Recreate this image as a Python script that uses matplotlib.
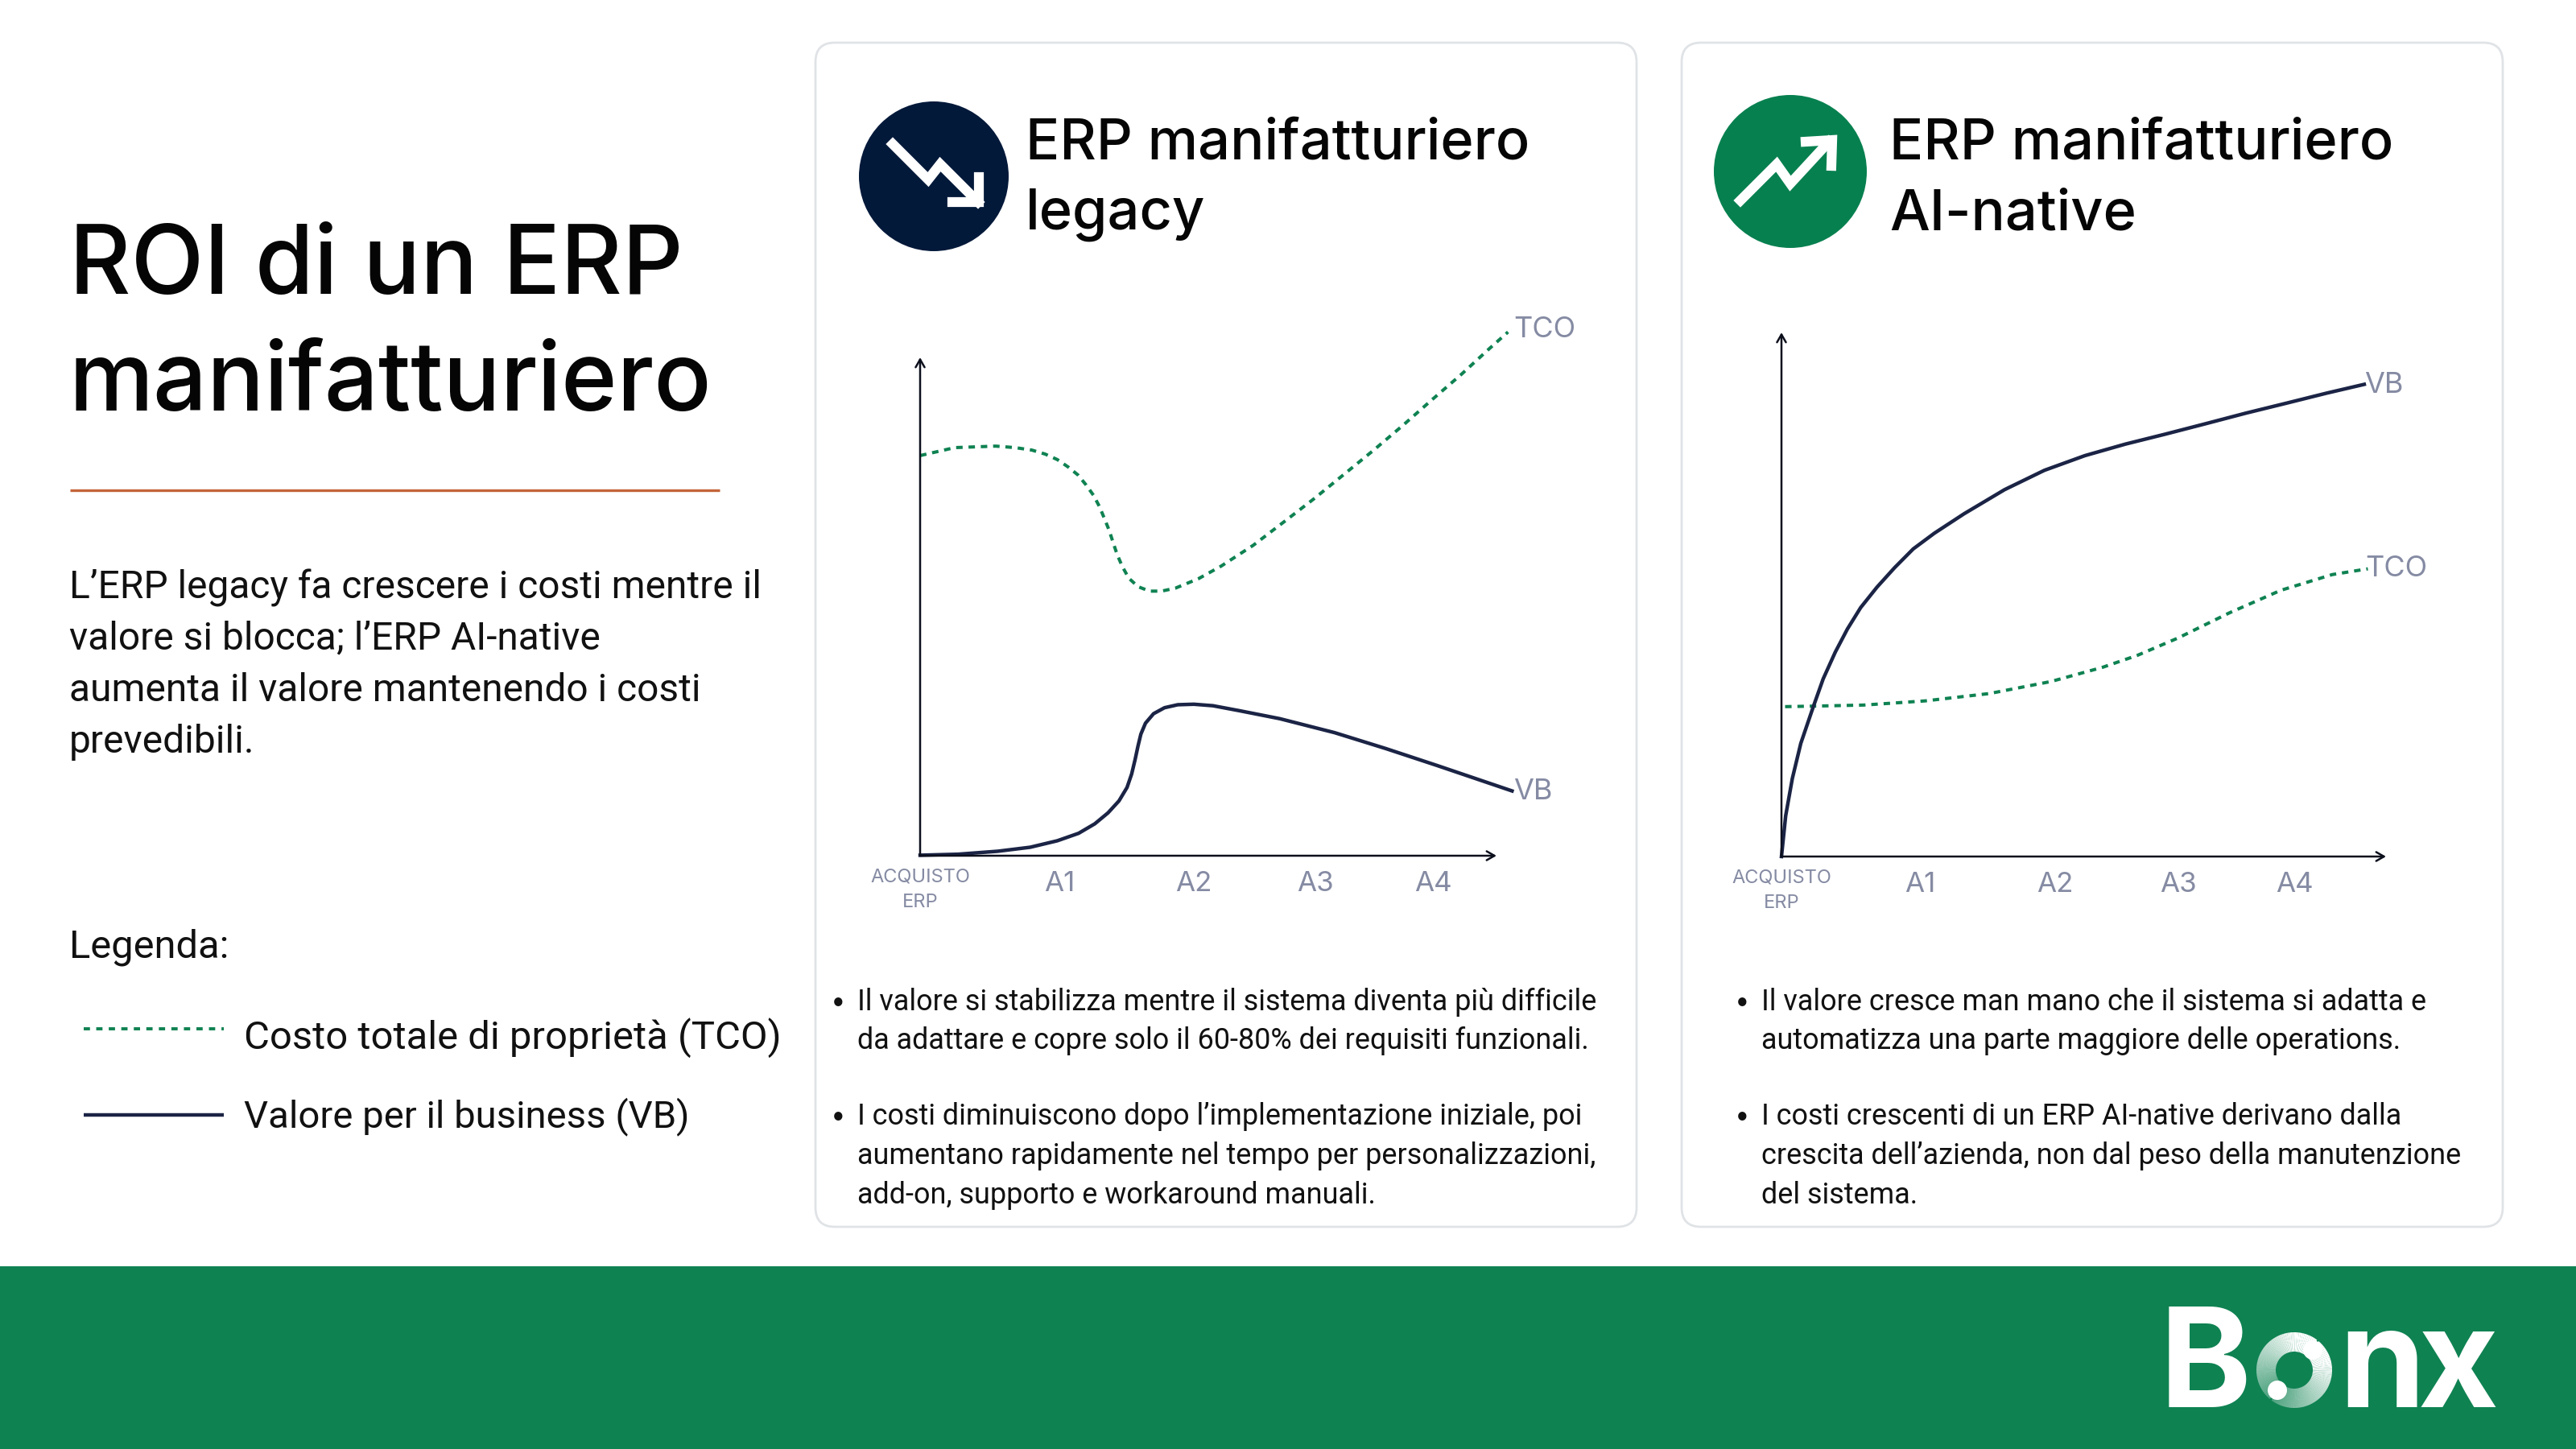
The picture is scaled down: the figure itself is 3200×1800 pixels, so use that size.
import numpy as np
import matplotlib
matplotlib.use('Agg')
from matplotlib import pyplot as plt
from matplotlib.patches import Circle, FancyBboxPatch, Rectangle, Wedge

plt.rcParams['font.family'] = ['Inter', 'DejaVu Sans']

# values, both axes run 0-100
years = ['ACQUISTO\nERP', 'A1', 'A2', 'A3', 'A4']
legacy_ticks = [0, 24.2, 47.4, 68.6, 89.0]
native_ticks = [0, 23.0, 45.3, 65.6, 84.9]

legacy_tco_x = [0, 6.0, 13.1, 16.5, 19.4, 21.7, 23.8, 25.7, 27.4, 28.8, 30.1, 31.1, 32.0, 32.8, 33.5, 34.2, 35.1, 36.2, 37.8,
                39.8, 41.9, 44.3, 48.3, 52.2, 57.8, 62.9, 68.3, 73.4, 78.7, 83.8, 88.7, 93.9, 98.7, 102.0]
legacy_tco_y = [80.3, 81.9, 82.2, 81.9, 81.4, 80.6, 79.5, 78.0, 76.4, 74.4, 72.3, 70.1, 67.6, 65.3, 62.8, 60.4, 58.0, 55.7, 54.0,
                53.1, 53.1, 53.7, 55.6, 58.1, 62.3, 66.8, 71.6, 76.4, 81.4, 86.4, 91.4, 96.6, 101.7, 105.1]
legacy_vb_x = [0, 6.6, 13.5, 19.1, 23.8, 27.5, 30.3, 32.6, 34.5, 35.9, 36.7, 37.3, 37.8, 38.3, 39.1, 40.5, 42.4, 44.7, 47.5,
               50.8, 55.4, 62.4, 71.9, 80.8, 89.7, 102.7]
legacy_vb_y = [0.1, 0.3, 0.9, 1.7, 3.0, 4.5, 6.4, 8.6, 11.0, 13.7, 16.4, 19.3, 22.0, 24.4, 26.6, 28.5, 29.7, 30.3, 30.4,
               30.1, 29.1, 27.5, 24.7, 21.5, 18.1, 13.0]

native_tco_x = [0.6, 5.3, 13.6, 23.8, 34.4, 44.6, 53.1, 58.9, 65.6, 74.1, 82.6, 91.1, 97.0]
native_tco_y = [28.6, 28.7, 28.9, 29.7, 31.1, 33.4, 36.1, 38.4, 41.7, 46.5, 50.8, 53.8, 54.9]
native_vb_x = [0, 0.7, 1.8, 3.2, 5.3, 6.9, 8.9, 10.9, 13.1, 15.8, 18.7, 21.8, 25.3, 30.2, 36.9, 43.5, 50.2, 56.9, 63.5, 70.2, 76.8, 83.5, 90.1, 96.4]
native_vb_y = [0, 7.8, 14.9, 21.6, 28.7, 33.9, 39.0, 43.4, 47.5, 51.4, 55.1, 58.7, 61.7, 65.4, 70.0, 73.7, 76.5, 78.7, 80.6, 82.6, 84.6, 86.5, 88.4, 90.1]

intro = ["L’ERP legacy fa crescere i costi mentre il", "valore si blocca; l’ERP AI-native",
         "aumenta il valore mantenendo i costi", "prevedibili."]
legacy_notes = [["Il valore si stabilizza mentre il sistema diventa più difficile",
                 "da adattare e copre solo il 60-80% dei requisiti funzionali."],
                ["I costi diminuiscono dopo l’implementazione iniziale, poi",
                 "aumentano rapidamente nel tempo per personalizzazioni,",
                 "add-on, supporto e workaround manuali."]]
native_notes = [["Il valore cresce man mano che il sistema si adatta e",
                 "automatizza una parte maggiore delle operations."],
                ["I costi crescenti di un ERP AI-native derivano dalla",
                 "crescita dell’azienda, non dal peso della manutenzione",
                 "del sistema."]]

GREEN = '#0f8252'
NAVY = '#1b2445'
GREY = '#858ba3'
BODY = ['Roboto', 'DejaVu Sans']
W, H = 3200, 1800


def draw_chart(box, ticks, tco_x, tco_y, vb_x, vb_y, tco_pos, vb_pos):
    x0, x1, y0, y1 = box
    ax = fig.add_axes([x0 / W, 1 - y0 / H, (x1 - x0) / W, (y0 - y1) / H])
    ax.patch.set_visible(False)
    ax.set_xlim(0, 100)
    ax.set_ylim(0, 100)
    for s in ax.spines.values():
        s.set_visible(False)
    ax.set_yticks([])
    ax.set_xticks(ticks, years)
    ax.tick_params(axis='x', length=0, pad=7, labelcolor=GREY, labelsize=12.6)
    first = ax.xaxis.get_major_ticks()[0]
    first.set_pad(5.5)
    first.label1.set_fontsize(8.5)
    first.label1.set_linespacing(1.55)
    ax.plot(tco_x, tco_y, color=GREEN, lw=1.45, dashes=(2.0, 1.8), dash_capstyle='butt', clip_on=False, zorder=3)
    ax.plot(vb_x, vb_y, color=NAVY, lw=1.6, clip_on=False, zorder=3)
    for end in [(100, 0), (0, 100)]:
        ax.annotate('', xy=end, xytext=(0, 0), arrowprops=dict(arrowstyle='->,head_length=0.35,head_width=0.2',
                    color='#0c0f1c', lw=0.9, shrinkA=0, shrinkB=0), zorder=4)
    bg.text(*tco_pos, 'TCO', color=GREY, fontsize=13, va='baseline')
    bg.text(*vb_pos, 'VB', color=GREY, fontsize=13, va='baseline')


def draw_notes(x, notes):
    baselines = [[1255, 1303], [1397, 1446, 1495]]
    for block, rows in zip(notes, baselines):
        bg.text(x - 24, rows[0], '•', fontsize=12, va='baseline', ha='center', color='#111111')
        for line, y in zip(block, rows):
            bg.text(x, y, line, fontsize=12.95, va='baseline', color='#111111', family=BODY)


fig = plt.figure(figsize=(16, 9), dpi=200, facecolor='white')
bg = fig.add_axes([0, 0, 1, 1])
bg.set_xlim(0, W)
bg.set_ylim(H, 0)
bg.axis('off')

# left column
bg.text(86, 365, 'ROI di un ERP', fontsize=42.6, va='baseline', color='#050505', fontweight='medium')
bg.text(86, 510, 'manifatturiero', fontsize=42.6, va='baseline', color='#050505', fontweight='medium')
bg.plot([87, 894], [609, 609], color='#c4643a', lw=1.2, solid_capstyle='butt')
for line, y in zip(intro, [743, 806, 871, 935]):
    bg.text(86, y, line, fontsize=17.25, va='baseline', color='#111111', family=BODY)
bg.text(86, 1189, 'Legenda:', fontsize=17.6, va='baseline', color='#111111', family=BODY)
bg.plot([104, 278], [1278, 1278], color=GREEN, lw=1.4, dashes=(2.0, 2.0), dash_capstyle='butt')
bg.plot([104, 278], [1385, 1385], color=NAVY, lw=1.6, solid_capstyle='butt')
bg.text(303, 1303, 'Costo totale di proprietà (TCO)', fontsize=17.65, va='baseline', color='#111111', family=BODY)
bg.text(303, 1400, 'Valore per il business (VB)', fontsize=17, va='baseline', color='#111111', family=BODY)

# the two cards
for x in (1013, 2089):
    bg.add_patch(FancyBboxPatch((x + 24, 53 + 24), 1020 - 48, 1471 - 48, boxstyle='round,pad=24,rounding_size=24',
                                fc='white', ec='#e0e3e6', lw=1.0))

# icons
bg.add_patch(Circle((1160, 219), 93, fc='#03193a', ec='none'))
bg.plot([1109, 1153, 1168, 1215], [179, 223, 204, 251], color='white', lw=4.4, solid_joinstyle='miter')
bg.plot([1183, 1216, 1216], [251, 251, 220], color='white', lw=4.4, solid_joinstyle='miter')
bg.add_patch(Circle((2224, 213), 95, fc='#07804f', ec='none'))
bg.plot([2162, 2207, 2224, 2272], [249, 204, 228, 176], color='white', lw=4.4, solid_joinstyle='miter')
bg.plot([2243, 2276, 2275], [176, 174, 206], color='white', lw=4.4, solid_joinstyle='miter')

for x, second in ((1274, 'legacy'), (2347, 'AI-native')):
    bg.text(x, 198, 'ERP manifatturiero', fontsize=25.3, va='baseline', color='#050505', fontweight='medium')
    bg.text(x, 285, second, fontsize=25.3, va='baseline', color='#050505', fontweight='medium')

draw_chart((1143, 1859, 1063, 444), legacy_ticks, legacy_tco_x, legacy_tco_y, legacy_vb_x, legacy_vb_y, (1880, 419), (1880, 993))
draw_chart((2213, 2964, 1064, 413), native_ticks, native_tco_x, native_tco_y, native_vb_x, native_vb_y, (2938, 716), (2937, 488))

draw_notes(1065, legacy_notes)
draw_notes(2188, native_notes)

# footer band and logo
bg.add_patch(Rectangle((0, 1573), W, 227, fc=GREEN, ec='none'))
logo = dict(color='white', fontweight='bold', va='baseline', family=['Inter', 'DejaVu Sans'])
bg.text(2683, 1748, 'B', fontsize=62, **logo)
bg.text(2905, 1748, 'n', fontsize=62, **logo)
bg.text(3003, 1748, 'x', fontsize=62, **logo)
for a in np.arange(130, 305, 3):
    alpha = 0.25 + 0.75 * np.clip((a - 130) / 140, 0, 1)
    bg.add_patch(Wedge((2850, 1702), 47, a, a + 3.2, width=24, fc='white', ec='none', alpha=alpha))
for a in np.arange(-50, 125, 3):
    alpha = 0.25 + 0.75 * np.clip((125 - a) / 140, 0, 1)
    bg.add_patch(Wedge((2850, 1702), 47, a, a + 3.2, width=24, fc='white', ec='none', alpha=alpha))
bg.add_patch(Circle((2873, 1677), 12, fc='white', ec='none'))
bg.add_patch(Circle((2829, 1727), 12, fc='white', ec='none'))

fig.savefig('out.png', dpi=200)
